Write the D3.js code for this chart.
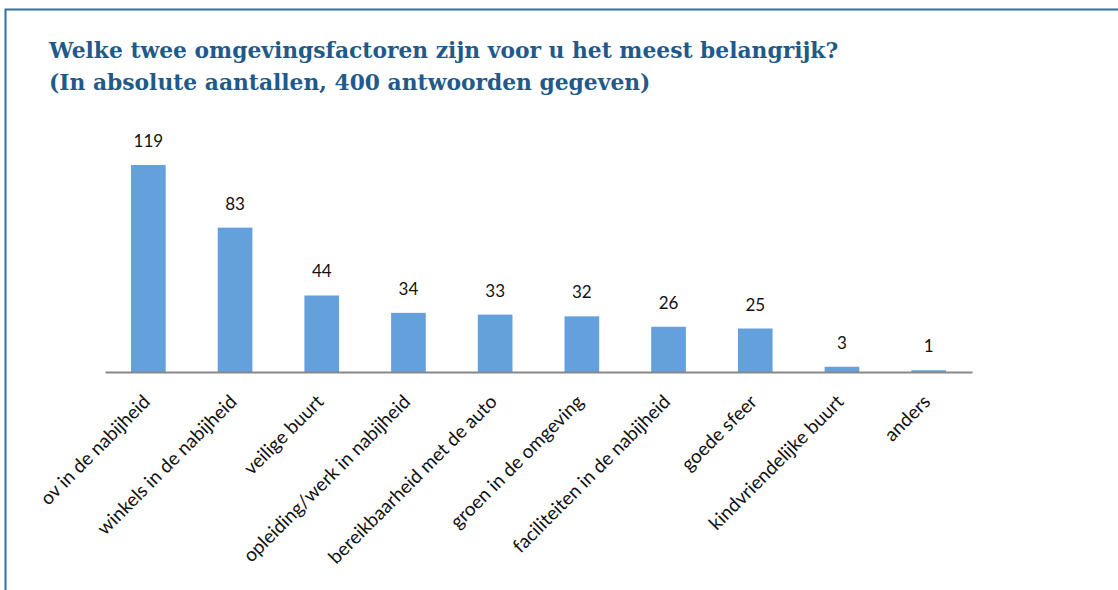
<!DOCTYPE html>
<html><head><meta charset="utf-8">
<script src="https://cdn.jsdelivr.net/npm/d3@7"></script>
<style>body{margin:0;background:#fff}svg{display:block}</style>
</head><body>
<svg id="c" width="1118" height="590"></svg>
<script>
const categories = ["ov in de nabijheid","winkels in de nabijheid","veilige buurt","opleiding/werk in nabijheid","bereikbaarheid met de auto","groen in de omgeving","faciliteiten in de nabijheid","goede sfeer","kindvriendelijke buurt","anders"];
const values = [119,83,44,34,33,32,26,25,3,1];
const titleLines = ["Welke twee omgevingsfactoren zijn voor u het meest belangrijk?","(In absolute aantallen, 400 antwoorden gegeven)"];

const svg = d3.select("#c");
svg.append("rect").attr("x",0).attr("y",0).attr("width",1118).attr("height",590).attr("fill","#fff");
// border
svg.append("path").attr("d","M5.5,590 V9.5 H1118").attr("fill","none").attr("stroke","#2E6FA6").attr("stroke-width",2);

svg.append("g").selectAll("text").data(titleLines).join("text")
  .attr("x",49).attr("y",(d,i)=>58+i*32)
  .attr("font-family","'DejaVu Serif', serif").attr("font-weight","bold")
  .attr("font-size",21.8).attr("fill","#1F5A8A").text(d=>d);

const x = d3.scaleBand().domain(categories).range([105,972]).paddingInner(0.6).paddingOuter(0.3);
const y = d3.scaleLinear().domain([0,119]).range([372,165]);

svg.append("g").selectAll("rect").data(values).join("rect")
  .attr("x",(d,i)=>x(categories[i])).attr("width",x.bandwidth())
  .attr("y",d=>y(d)).attr("height",d=>y(0)-y(d)).attr("fill","#64A0DC");

svg.append("g").selectAll("text").data(values).join("text")
  .attr("x",(d,i)=>x(categories[i])+x.bandwidth()/2).attr("y",d=>y(d)-18)
  .attr("text-anchor","middle").attr("font-family","Lato, sans-serif").attr("font-size",17).attr("fill","#111")
  .text(d=>d);

const ax = svg.append("g").attr("transform","translate(0,372)").call(d3.axisBottom(x).tickSize(0).tickSizeOuter(0));
ax.select(".domain").attr("stroke","#888").attr("stroke-width",2);
ax.selectAll("text").attr("font-family","Lato, sans-serif").attr("font-size",19).attr("fill","#111")
  .attr("text-anchor","end").attr("dy",0).attr("y",0)
  .attr("transform","translate(3,31) rotate(-45)");
</script></body></html>
